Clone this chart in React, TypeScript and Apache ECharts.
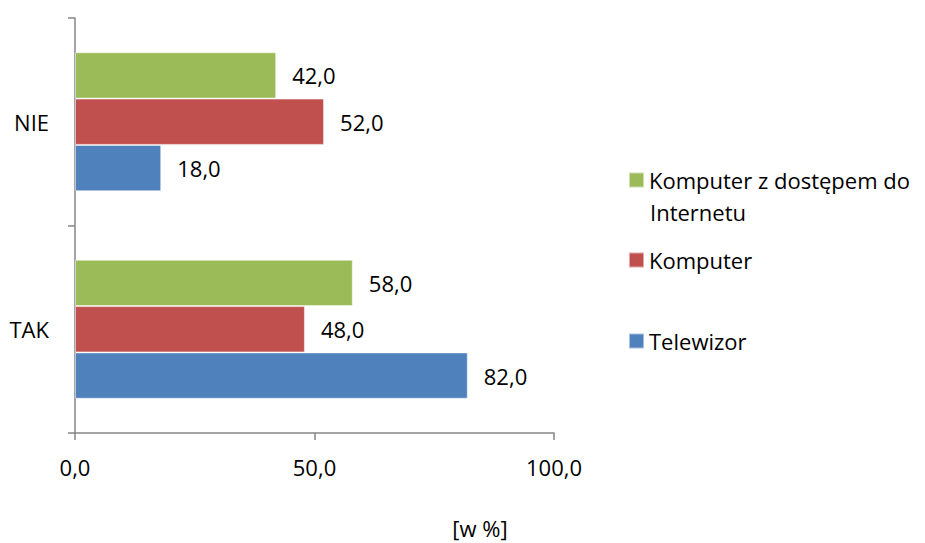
import React, { useEffect, useRef } from "react";
import * as echarts from "echarts";

const categories = ["TAK", "NIE"];
const seriesNames = ["Komputer z dostępem do Internetu", "Komputer", "Telewizor"];
const komputerInternet = [58.0, 42.0];
const komputer = [48.0, 52.0];
const telewizor = [82.0, 18.0];
const xTicks = [0, 50, 100];
const axisTitle = "[w %]";

const FONT = "Open Sans";
const FS = 22;
const colors = ["#9BBB59", "#C0504D", "#4F81BD"];

export default function App() {
  const ref = useRef<HTMLDivElement>(null);
  useEffect(() => {
    document.body.style.margin = "0";
    const chart = echarts.init(ref.current!, null, { renderer: "svg" });
    const fmt = (v: number) => v.toFixed(1).replace(".", ",");
    const mk = (name: string, data: number[], color: string) => ({
      name,
      type: "bar",
      data,
      barGap: "0%",
      barCategoryGap: "33%",
      itemStyle: { color, borderColor: "rgba(255,255,255,0.5)", borderWidth: 1 },
      label: {
        show: true,
        position: "right",
        distance: 16,
        formatter: (p: any) => fmt(p.value),
        fontFamily: FONT,
        fontSize: FS,
        color: "#000",
      },
    });
    const legendBase = {
      orient: "vertical",
      left: 628,
      padding: 0,
      itemWidth: 15,
      itemHeight: 15,
      itemGap: 6,
      icon: "rect",
      textStyle: { fontFamily: FONT, fontSize: FS, color: "#000", padding: [0, 0, 0, 0] },
      selectedMode: false,
    };
    chart.setOption({
      animation: false,
      grid: { left: 75, top: 18, right: 371, bottom: 110, containLabel: false },
      xAxis: {
        type: "value",
        min: 0,
        max: 100,
        interval: 50,
        splitLine: { show: false },
        axisLine: { show: true, lineStyle: { color: "#868686", width: 1.5 } },
        axisTick: { show: true, length: 7, lineStyle: { color: "#868686", width: 1.5 } },
        axisLabel: {
          margin: 23,
          fontFamily: FONT,
          fontSize: FS,
          color: "#000",
          formatter: (v: number) => (xTicks.includes(v) ? fmt(v) : ""),
        },
      },
      yAxis: {
        type: "category",
        data: categories,
        axisLine: { show: true, lineStyle: { color: "#868686", width: 1.5 } },
        axisTick: { show: true, length: 7, lineStyle: { color: "#868686", width: 1.5 } },
        axisLabel: { margin: 26, fontFamily: FONT, fontSize: FS, color: "#000" },
      },
      legend: [
        {
          ...legendBase,
          top: 169,
          data: [seriesNames[0]],
          formatter: () => "Komputer z dostępem do",
        },
        { ...legendBase, top: 249, data: [seriesNames[1]] },
        { ...legendBase, top: 330, data: [seriesNames[2]] },
      ],
      graphic: [
        {
          type: "text",
          x: 650,
          y: 212,
          style: {
            text: "Internetu",
            font: `${FS}px '${FONT}'`,
            fill: "#000",
            verticalAlign: "middle",
          },
        },
        {
          type: "text",
          x: 480,
          y: 528,
          style: {
            text: axisTitle,
            font: `${FS}px '${FONT}'`,
            fill: "#000",
            align: "center",
            verticalAlign: "middle",
          },
        },
      ],
      series: [
        mk(seriesNames[0], komputerInternet, colors[0]),
        mk(seriesNames[1], komputer, colors[1]),
        mk(seriesNames[2], telewizor, colors[2]),
      ],
    });
    return () => chart.dispose();
  }, []);
  return <div ref={ref} style={{ width: 925, height: 543 }} />;
}
